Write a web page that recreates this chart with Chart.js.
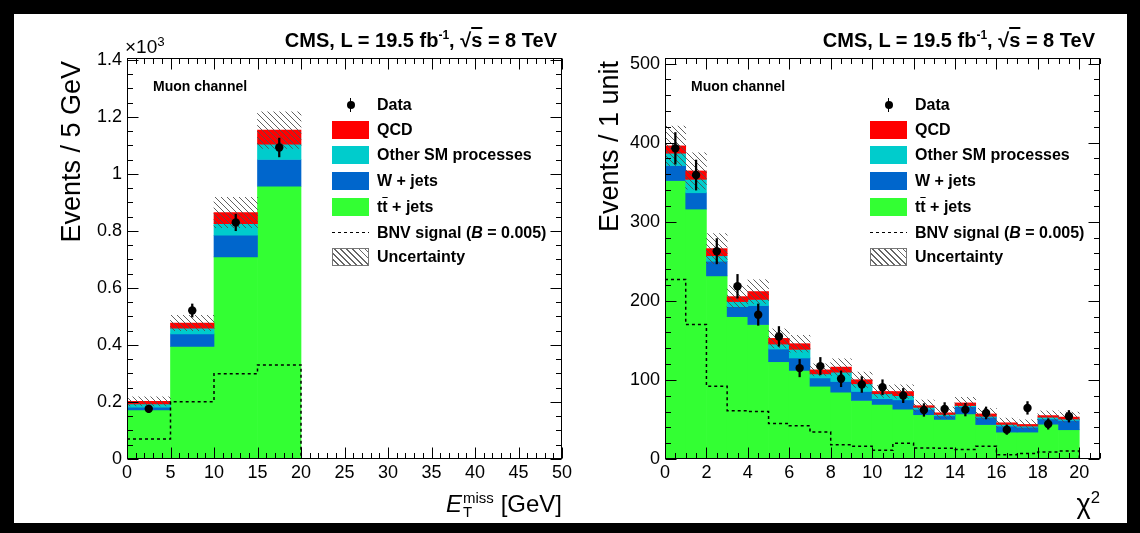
<!DOCTYPE html>
<html><head><meta charset="utf-8">
<title>CMS BNV search - muon channel</title>
<script src="https://cdn.jsdelivr.net/npm/chart.js@4.4.1/dist/chart.umd.min.js"></script>
<style>
html,body{margin:0;padding:0;}
body{width:1140px;height:533px;background:#000;position:relative;overflow:hidden;font-family:"Liberation Sans",Arial,Helvetica,sans-serif;color:#000;}
#paper{position:absolute;left:14px;top:14px;width:1113px;height:509px;background:#fff;}
canvas{position:absolute;top:0;}
#c1{left:0;} #c2{left:570px;}
.t{position:absolute;white-space:nowrap;}
.cms{font-size:20px;font-weight:bold;line-height:20px;}
.ov{text-decoration:overline;}
.sp{font-size:0.6em;position:relative;top:-0.65em;}
.muon{font-size:14px;font-weight:bold;line-height:14px;}
.row{position:absolute;height:20px;width:260px;}
.box{position:absolute;left:0;top:1px;width:37px;height:18px;}
.lab{position:absolute;left:45px;top:0;font-size:16px;font-weight:bold;line-height:20px;white-space:nowrap;}
.hatch{background:repeating-linear-gradient(45deg,#fff 0 3.2px,#666 3.2px 4.3px);border:1px solid #777;box-sizing:border-box;}
.dash{position:absolute;left:0;top:9px;width:37px;height:1.5px;background:repeating-linear-gradient(90deg,#000 0 3px,transparent 3px 6px);}
.dot{position:absolute;left:14.5px;top:6px;width:8px;height:8px;border-radius:50%;background:#000;}
.bar{position:absolute;left:17.75px;top:3px;width:1.5px;height:14px;background:#000;}
.ytitle{position:absolute;font-size:27px;line-height:27px;width:300px;text-align:right;transform-origin:0 0;transform:rotate(-90deg);white-space:nowrap;}
.xtitle{position:absolute;font-size:24px;line-height:24px;white-space:nowrap;}
</style></head>
<body>
<div id="paper"></div>
<canvas id="c1" width="600" height="533"></canvas>
<canvas id="c2" width="570" height="533"></canvas>

<div class="t" style="left:125px;top:37px;font-size:19px;line-height:19px;">×10<span style="font-size:0.7em;position:relative;top:-0.55em;">3</span></div>
<div class="t cms" style="right:583px;top:30px;">CMS, L = 19.5 fb<span class="sp">-1</span>, √<span class="ov">s</span> = 8 TeV</div>
<div class="t cms" style="right:45px;top:30px;">CMS, L = 19.5 fb<span class="sp">-1</span>, √<span class="ov">s</span> = 8 TeV</div>
<div class="t muon" style="left:153px;top:79px;">Muon channel</div>
<div class="t muon" style="left:691px;top:79px;">Muon channel</div>

<div class="ytitle" style="left:58px;top:361px;">Events / 5 GeV</div>
<div class="ytitle" style="left:596px;top:361px;">Events / 1 unit</div>

<div class="xtitle" style="right:578px;top:492px;"><i>E</i><span style="display:inline-block;position:relative;width:32px;height:1px;"><span style="position:absolute;left:1px;top:-21px;font-size:15px;line-height:15px;">miss</span><span style="position:absolute;left:1px;top:-7px;font-size:15px;line-height:15px;">T</span></span> [GeV]</div>
<div class="xtitle" style="right:40px;top:491px;font-size:27px;line-height:27px;">χ<span style="font-size:0.62em;position:relative;top:-0.6em;">2</span></div>

<div id="leg1"></div>
<div id="leg2"></div>

<script>
// ---------------- data: left panel (missing transverse energy, in units of 10^3 events) ----------------
const metBinEdges   = [0, 5, 10, 15, 20, 25, 30, 35, 40, 45, 50];
const metTTbarJets  = [0.172, 0.395, 0.709, 0.957, 0, 0, 0, 0, 0, 0];
const metWJets      = [0.010, 0.044, 0.076, 0.094, 0, 0, 0, 0, 0, 0];
const metOtherSM    = [0.011, 0.020, 0.041, 0.054, 0, 0, 0, 0, 0, 0];
const metQCD        = [0.009, 0.018, 0.039, 0.049, 0, 0, 0, 0, 0, 0];
const metUncert     = [0.016, 0.027, 0.053, 0.064, 0, 0, 0, 0, 0, 0];
const metData       = [0.176, 0.521, 0.830, 1.093, null, null, null, null, null, null];
const metDataErr    = [0.013, 0.023, 0.029, 0.033, null, null, null, null, null, null];
const metSignal     = [0.070, 0.201, 0.299, 0.330, 0, 0, 0, 0, 0, 0];
const metXTicks     = [0, 5, 10, 15, 20, 25, 30, 35, 40, 45, 50];
const metXTickLabels= ['0','5','10','15','20','25','30','35','40','45','50'];
const metYTicks     = [0, 0.2, 0.4, 0.6, 0.8, 1.0, 1.2, 1.4];
const metYTickLabels= ['0','0.2','0.4','0.6','0.8','1','1.2','1.4'];

// ---------------- data: right panel (chi^2) ----------------
const chiBinEdges   = [0,1,2,3,4,5,6,7,8,9,10,11,12,13,14,15,16,17,18,19,20,21];
const chiTTbarJets  = [352, 316, 231.5, 180, 170, 123, 112, 92, 84.5, 74, 69, 63, 56, 50, 57, 43.5, 34, 34, 44, 37, 0];
const chiWJets      = [19, 20.6, 18.5, 12.6, 24, 16, 15.7, 10.5, 13.5, 11.4, 7.2, 11.8, 6.8, 4.6, 9.2, 9.2, 7.6, 6.2, 6.7, 11.8, 0];
const chiOtherSM    = [15.6, 17, 7, 6.4, 7.7, 6.3, 10.9, 5.1, 11.8, 9.7, 6.3, 5.3, 2.5, 1.7, 1.3, 1.3, 2.1, 1.4, 2.1, 1.7, 0];
const chiQCD        = [9.3, 10.6, 9, 6.3, 10, 7.2, 7.2, 5.1, 6.4, 5.1, 2.9, 5.2, 2.1, 2.1, 3.4, 3, 2.1, 2.1, 2.1, 2.5, 0];
const chiUncert     = [25, 23, 19, 14, 15, 12, 10.6, 7.6, 10.5, 9.7, 7.6, 8.5, 7.2, 7.2, 7.1, 7, 5.9, 5.9, 5.9, 6.3, 0];
const chiData       = [392.8, 359, 262.7, 218.4, 182.5, 155, 114.9, 117.4, 101.4, 94.2, 90.7, 80.2, 62, 63.3, 62.4, 58.2, 37.1, 64.6, 44.3, 54, null];
const chiDataErr    = [20, 19, 16, 15, 13.5, 12.5, 11, 11, 10, 10, 9.5, 9, 8, 8, 8, 7.6, 6, 8, 6.6, 7.3, null];
const chiSignal     = [227, 170, 92, 61, 60, 45, 42, 34, 18, 16, 11, 20, 14, 13.5, 12, 16, 5.5, 7, 9, 10, 0];
const chiXTicks     = [0, 2, 4, 6, 8, 10, 12, 14, 16, 18, 20];
const chiXTickLabels= ['0','2','4','6','8','10','12','14','16','18','20'];
const chiYTicks     = [0, 100, 200, 300, 400, 500];
const chiYTickLabels= ['0','100','200','300','400','500'];

// ---------------- legend ----------------
const legendLabels = ['Data', 'QCD', 'Other SM processes', 'W + jets', 't<span class="ov">t</span> + jets', 'BNV signal (<i>B</i> = 0.005)', 'Uncertainty'];

const GREEN = 'rgb(51,255,51)', BLUE = 'rgb(0,102,204)', CYAN = 'rgb(0,204,204)', RED = 'rgb(255,0,0)';
const FONT = '"Liberation Sans", Arial, Helvetica, sans-serif';

function makeLegend(id, left) {
  const rowsY = [105, 130, 155, 180.5, 206.5, 232.5, 257];
  const swatch = ['data', RED, CYAN, BLUE, GREEN, 'dash', 'hatch'];
  let html = '';
  legendLabels.forEach((lab, i) => {
    let sw = '';
    if (swatch[i] === 'data') sw = '<div class="bar"></div><div class="dot"></div>';
    else if (swatch[i] === 'dash') sw = '<div class="dash"></div>';
    else if (swatch[i] === 'hatch') sw = '<div class="box hatch"></div>';
    else sw = '<div class="box" style="background:' + swatch[i] + '"></div>';
    html += '<div class="row" style="left:' + left + 'px;top:' + (rowsY[i] - 10) + 'px">' + sw + '<div class="lab">' + lab + '</div></div>';
  });
  document.getElementById(id).innerHTML = html;
}
makeLegend('leg1', 332);
makeLegend('leg2', 870);

// hatch pattern for uncertainty band
function makeHatch() {
  const c = document.createElement('canvas');
  c.width = 6; c.height = 6;
  const g = c.getContext('2d');
  g.strokeStyle = 'rgba(80,80,80,0.9)';
  g.lineWidth = 1;
  g.beginPath();
  g.moveTo(-1, -1); g.lineTo(7, 7);
  g.moveTo(-1, 5); g.lineTo(1, 7);
  g.moveTo(5, -1); g.lineTo(7, 1);
  g.stroke();
  return g.createPattern(c, 'repeat');
}
const hatchPattern = makeHatch();

// frame with inward ticks on all four sides (ROOT style)
const frameTicks = {
  id: 'frameTicks',
  afterDraw(chart, args, o) {
    const {ctx, chartArea: a, scales: {x, y}} = chart;
    const L = Math.round(a.left) + 0.5, R = Math.round(a.right) - 0.5;
    const T = Math.round(a.top) + 0.5, B = Math.round(a.bottom) - 0.5;
    ctx.save();
    ctx.strokeStyle = '#000';
    ctx.lineWidth = 1;
    ctx.strokeRect(L, T, R - L, B - T);
    ctx.beginPath();
    const nx = Math.round((x.max - x.min) / o.xMinor);
    for (let k = 0; k <= nx; k++) {
      const v = x.min + k * o.xMinor;
      const major = Math.abs(v / o.xMajor - Math.round(v / o.xMajor)) < 1e-6;
      const len = major ? o.majorLen : o.minorLen;
      const px = Math.round(x.getPixelForValue(v)) + 0.5;
      ctx.moveTo(px, B); ctx.lineTo(px, B - len);
      ctx.moveTo(px, T); ctx.lineTo(px, T + len);
    }
    const ny = Math.floor((y.max - y.min) / o.yMinor + 1e-6);
    for (let k = 0; k <= ny; k++) {
      const v = y.min + k * o.yMinor;
      const major = Math.abs(v / o.yMajor - Math.round(v / o.yMajor)) < 1e-6;
      const len = major ? o.majorLen : o.minorLen;
      const py = Math.round(y.getPixelForValue(v)) + 0.5;
      ctx.moveTo(L, py); ctx.lineTo(L + len, py);
      ctx.moveTo(R, py); ctx.lineTo(R - len, py);
    }
    ctx.stroke();
    ctx.restore();
  }
};

function binCenters(edges) { return edges.slice(0, -1).map((e, i) => (e + edges[i + 1]) / 2); }

function buildPanel(canvasId, p) {
  const centers = binCenters(p.edges);
  const n = centers.length;
  const base = new Array(n).fill(0);
  const datasets = [];
  const comps = [
    {vals: p.tt, color: GREEN}, {vals: p.w, color: BLUE},
    {vals: p.other, color: CYAN}, {vals: p.qcd, color: RED}
  ];
  comps.forEach((c, k) => {
    const pts = [];
    for (let i = 0; i < n; i++) {
      if (c.vals[i] > 0) pts.push({x: centers[i], y: [base[i], base[i] + c.vals[i]]});
      base[i] += c.vals[i];
    }
    datasets.push({type: 'bar', data: pts, backgroundColor: c.color, borderWidth: 0,
      grouped: false, barPercentage: 1, categoryPercentage: 1, order: 20 - k});
  });
  const unc = [];
  for (let i = 0; i < n; i++) if (p.unc[i] > 0) unc.push({x: centers[i], y: [base[i] - p.unc[i], base[i] + p.unc[i]]});
  datasets.push({type: 'bar', data: unc, backgroundColor: hatchPattern, borderWidth: 0,
    grouped: false, barPercentage: 1, categoryPercentage: 1, order: 10});
  const sig = p.edges.slice(0, -1).map((e, i) => ({x: e, y: p.signal[i]}));
  sig.push({x: p.edges[n], y: p.signal[n - 1]});
  datasets.push({type: 'line', data: sig, stepped: true, borderColor: '#000', borderWidth: 1.5,
    borderDash: [3, 3], pointRadius: 0, fill: false, order: 5});
  const err = [], pts = [];
  for (let i = 0; i < n; i++) {
    if (p.data[i] == null) continue;
    err.push({x: centers[i], y: [p.data[i] - p.err[i], p.data[i] + p.err[i]]});
    pts.push({x: centers[i], y: p.data[i]});
  }
  datasets.push({type: 'bar', data: err, backgroundColor: '#000', borderWidth: 0, grouped: false,
    barPercentage: 1, categoryPercentage: 1, maxBarThickness: 1.6, order: 2});
  datasets.push({type: 'scatter', data: pts, pointRadius: 4.2, pointBackgroundColor: '#000',
    pointBorderWidth: 0, pointHoverRadius: 4.2, order: 1});

  const tickFont = {family: FONT, size: 18};
  new Chart(document.getElementById(canvasId), {
    type: 'bar',
    data: {datasets},
    plugins: [frameTicks],
    options: {
      responsive: false, animation: false, devicePixelRatio: 1,
      layout: {padding: {left: 0, top: 58, right: p.padRight, bottom: 0}},
      plugins: {legend: {display: false}, tooltip: {enabled: false},
        frameTicks: {xMajor: p.xMajor, xMinor: p.xMinor, yMajor: p.yMajor, yMinor: p.yMinor, majorLen: 11, minorLen: 5.5}},
      scales: {
        x: {type: 'linear', min: p.edges[0], max: p.edges[n], offset: false,
          grid: {display: false, drawTicks: false}, border: {display: false},
          afterBuildTicks(s) { s.ticks = p.xTicks.map(v => ({value: v})); },
          ticks: {autoSkip: false, maxRotation: 0, padding: 3, color: '#000', font: tickFont,
            callback: (v, i) => p.xTickLabels[i]},
          afterFit(s) { s.height = 533 - 459; s.paddingLeft = 0; s.paddingRight = 0; }},
        y: {type: 'linear', min: 0, max: p.yMax,
          grid: {display: false, drawTicks: false}, border: {display: false},
          afterBuildTicks(s) { s.ticks = p.yTicks.map(v => ({value: v})); },
          ticks: {autoSkip: false, padding: 5, color: '#000', font: tickFont,
            callback: (v, i) => p.yTickLabels[i]},
          afterFit(s) { s.width = p.yAxisWidth; s.paddingTop = 0; s.paddingBottom = 0; }}
      }
    }
  });
}

buildPanel('c1', {
  edges: metBinEdges, tt: metTTbarJets, w: metWJets, other: metOtherSM, qcd: metQCD,
  unc: metUncert, data: metData, err: metDataErr, signal: metSignal,
  xTicks: metXTicks, xTickLabels: metXTickLabels, yTicks: metYTicks, yTickLabels: metYTickLabels,
  yMax: 1.407, xMajor: 5, xMinor: 1, yMajor: 0.2, yMinor: 0.05, padRight: 38, yAxisWidth: 127
});
buildPanel('c2', {
  edges: chiBinEdges, tt: chiTTbarJets, w: chiWJets, other: chiOtherSM, qcd: chiQCD,
  unc: chiUncert, data: chiData, err: chiDataErr, signal: chiSignal,
  xTicks: chiXTicks, xTickLabels: chiXTickLabels, yTicks: chiYTicks, yTickLabels: chiYTickLabels,
  yMax: 507, xMajor: 2, xMinor: 0.5, yMajor: 100, yMinor: 20, padRight: 40, yAxisWidth: 95
});
</script>
</body></html>
